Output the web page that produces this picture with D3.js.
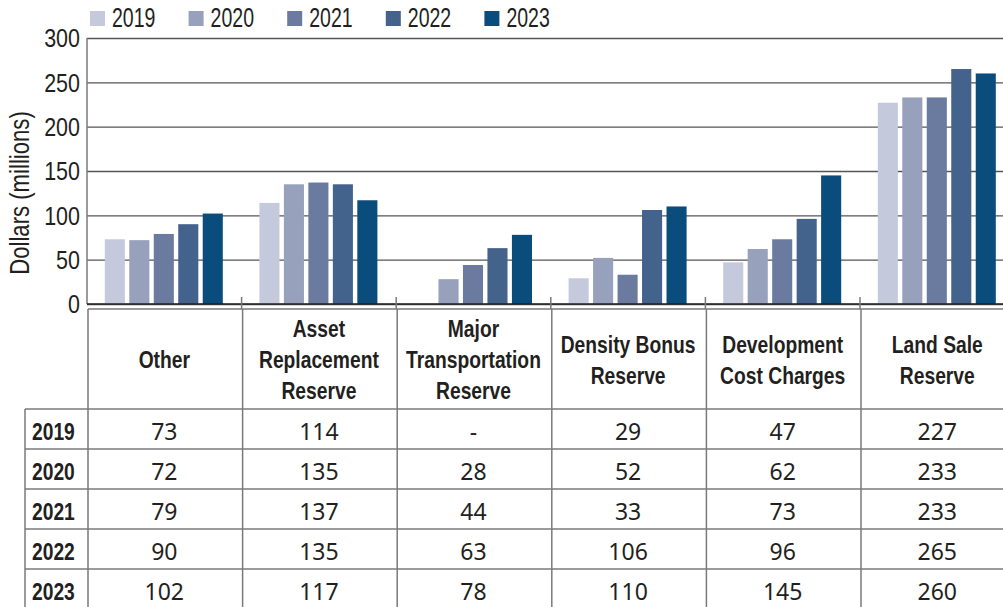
<!DOCTYPE html>
<html>
<head>
<meta charset="utf-8">
<script src="https://cdn.jsdelivr.net/npm/d3@7"></script>
<style>
  body { margin: 0; background: #fff; }
  svg { display: block; }
  .narrow { font-family: "Liberation Sans", Arial, sans-serif; }
</style>
</head>
<body>
<svg width="1003" height="607"></svg>
<script>
const categories = ["Other", "Asset Replacement Reserve", "Major Transportation Reserve",
  "Density Bonus Reserve", "Development Cost Charges", "Land Sale Reserve"];
const headerLines = [["Other"], ["Asset", "Replacement", "Reserve"], ["Major", "Transportation", "Reserve"],
  ["Density Bonus", "Reserve"], ["Development", "Cost Charges"], ["Land Sale", "Reserve"]];
const years = ["2019", "2020", "2021", "2022", "2023"];
const v2019 = [73, 114, null, 29, 47, 227];
const v2020 = [72, 135, 28, 52, 62, 233];
const v2021 = [79, 137, 44, 33, 73, 233];
const v2022 = [90, 135, 63, 106, 96, 265];
const v2023 = [102, 117, 78, 110, 145, 260];
const yTicks = [0, 50, 100, 150, 200, 250, 300];
const colors = ["#c4cadb", "#97a1bc", "#6b7ba0", "#43628c", "#0a4c7c"];

const series = [v2019, v2020, v2021, v2022, v2023];
const textColor = "#231f20";
const lineGray = "#7a7a7a";
const squeeze = 0.82; // fake a condensed face by scaling Liberation Sans

const svg = d3.select("svg");
const W = 1003;

const x = d3.scaleBand().domain(categories).range([87, 87 + 6 * 154.6]).padding(0);
const xInner = d3.scaleBand().domain(years).range([17.8, 17.8 + 118]).paddingInner(0.18);
const y = d3.scaleLinear().domain([0, 300]).range([304, 38]);
const color = d3.scaleOrdinal().domain(years).range(colors);

// condensed text helper
function narrow(parent, tx, ty, size, opts = {}) {
  return parent.append("text")
    .attr("class", "narrow")
    .attr("transform", `translate(${tx},${ty}) ${opts.rotate ? "rotate(" + opts.rotate + ")" : ""} scale(${opts.sx || squeeze},1)`)
    .attr("text-anchor", opts.anchor || "start")
    .attr("fill", textColor)
    .style("font-size", size + "px")
    .style("font-weight", opts.bold ? "bold" : "normal");
}

// gridlines
const yAxis = svg.append("g")
  .attr("transform", "translate(87,0)")
  .call(d3.axisLeft(y).tickValues(yTicks).tickSizeInner(-(W - 87)).tickSizeOuter(0).tickFormat(""));
yAxis.select(".domain").remove();
yAxis.selectAll(".tick line")
  .attr("stroke", "#555")
  .attr("stroke-width", 1.4);

// tick labels
yTicks.forEach(t => {
  narrow(svg, 80, y(t) + 9.3, 26.5, { anchor: "end", sx: 0.81 }).text(t);
});

// left axis line
svg.append("line")
  .attr("x1", 87).attr("x2", 87)
  .attr("y1", y(300)).attr("y2", y(0))
  .attr("stroke", lineGray).attr("stroke-width", 1.5);

// bars
const groups = svg.append("g").selectAll("g")
  .data(categories)
  .join("g")
  .attr("transform", d => `translate(${x(d)},0)`);

groups.selectAll("rect")
  .data((c, ci) => years.map((yr, yi) => ({ year: yr, value: series[yi][ci] })))
  .join("rect")
  .filter(d => d.value != null)
  .attr("x", d => xInner(d.year))
  .attr("width", xInner.bandwidth())
  .attr("y", d => y(d.value))
  .attr("height", d => y(0) - y(d.value))
  .attr("fill", d => color(d.year));

// baseline
svg.append("line")
  .attr("x1", 87).attr("x2", W)
  .attr("y1", y(0)).attr("y2", y(0))
  .attr("stroke", "#222").attr("stroke-width", 1.6);

// category boundary ticks
const bounds = categories.map(c => x(c)).concat([x.range()[1]]);
svg.append("g").selectAll("line")
  .data(bounds.slice(1))
  .join("line")
  .attr("x1", d => d).attr("x2", d => d)
  .attr("y1", y(0) - 7).attr("y2", 309)
  .attr("stroke", lineGray).attr("stroke-width", 1.5);

// y label
narrow(svg, 28.5, 193, 27, { anchor: "middle", rotate: -90 }).text("Dollars (millions)");

// legend
const legend = svg.append("g").selectAll("g")
  .data(years)
  .join("g")
  .attr("transform", (d, i) => `translate(${90 + i * 98.6},0)`);
legend.append("rect")
  .attr("x", 0).attr("y", 11)
  .attr("width", 15).attr("height", 15)
  .attr("fill", d => color(d));
legend.each(function(d) {
  narrow(d3.select(this), 22, 27, 27.5, { sx: 0.71 }).text(d);
});

// data table
const tableTop = 309, headerBottom = 409, rowH = 40;
const table = svg.append("g");
const tableLines = table.append("g")
  .attr("stroke", lineGray).attr("stroke-width", 1.5);

tableLines.append("line")
  .attr("x1", 88).attr("x2", W).attr("y1", tableTop).attr("y2", tableTop);
d3.range(years.length + 1).forEach(i => {
  tableLines.append("line")
    .attr("x1", 25).attr("x2", W)
    .attr("y1", headerBottom + i * rowH).attr("y2", headerBottom + i * rowH);
});
tableLines.append("line")
  .attr("x1", 25).attr("x2", 25).attr("y1", headerBottom).attr("y2", 610);
tableLines.selectAll(".col")
  .data(bounds)
  .join("line")
  .attr("class", "col")
  .attr("x1", d => d + 1).attr("x2", d => d + 1)
  .attr("y1", tableTop).attr("y2", 610);

// header text
categories.forEach((c, ci) => {
  const lines = headerLines[ci];
  const cx = x(c) + x.bandwidth() / 2;
  const startY = 360 - (lines.length - 1) * 31 / 2;
  lines.forEach((ln, li) => {
    narrow(table, cx, startY + li * 31 + 8.3, 23.5, { anchor: "middle", bold: true }).text(ln);
  });
});

// rows
years.forEach((yr, yi) => {
  const baseY = headerBottom + yi * rowH + 30.5;
  narrow(table, 32, baseY, 23.5, { bold: true }).text(yr);
  table.append("g").selectAll("text")
    .data(series[yi])
    .join("text")
    .attr("x", (d, ci) => x(categories[ci]) + x.bandwidth() / 2)
    .attr("y", baseY)
    .attr("text-anchor", "middle")
    .attr("fill", textColor)
    .style("font-family", "'Noto Sans', sans-serif")
    .style("font-size", "23px")
    .text(d => d == null ? "-" : d);
});
</script>
</body>
</html>
